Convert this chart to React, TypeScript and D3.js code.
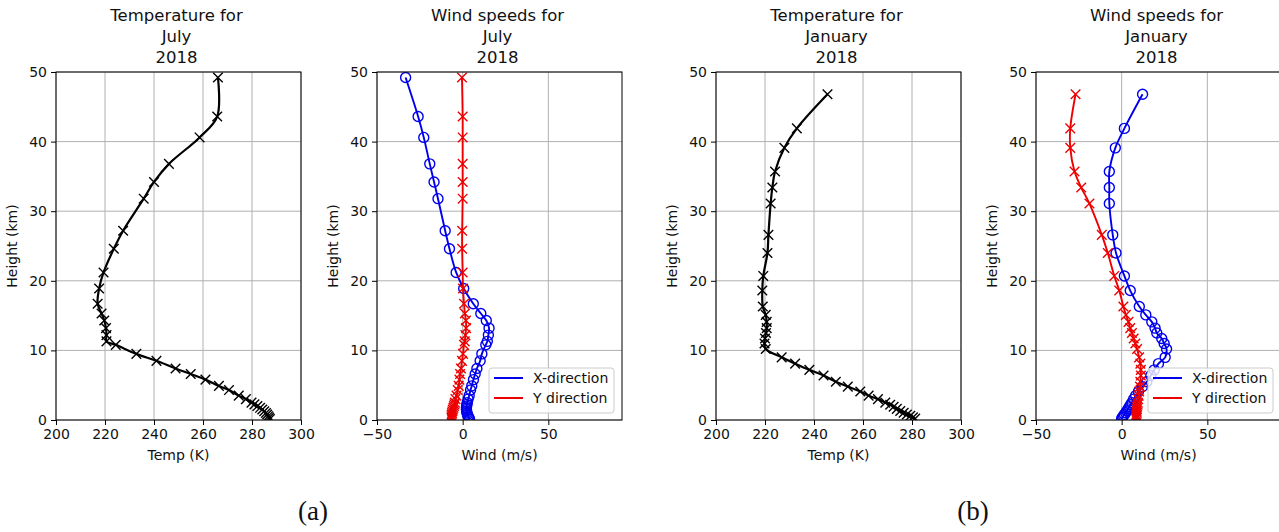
import React, { useEffect, useRef } from "react";
import * as d3 from "d3";

// July 2018 profile, surface -> top (km)
const julyHeight = [0.15, 0.35, 0.55, 0.8, 1.0, 1.25, 1.5, 1.75, 2.0, 2.25, 2.5, 3.0, 3.5, 4.3, 4.9, 5.8, 6.6, 7.4, 8.5, 9.5, 10.8, 11.3, 12.2, 13.2, 14.3, 15.3, 16.7, 18.9, 21.2, 24.6, 27.2, 31.8, 34.2, 36.8, 40.6, 43.6, 49.2];
const julyTemp = [287.3, 287.0, 286.6, 286.2, 285.7, 285.0, 284.2, 283.3, 282.2, 281.0, 279.8, 277.5, 274.6, 270.6, 266.5, 261.0, 255.0, 248.8, 241.0, 232.8, 224.4, 220.6, 220.6, 220.4, 219.7, 218.6, 217.0, 217.6, 219.4, 223.6, 227.4, 235.8, 240.0, 246.1, 258.6, 265.8, 266.1];
const julyWindX = [4.0, 3.6, 3.2, 2.8, 2.5, 2.3, 2.2, 2.2, 2.3, 2.5, 2.7, 3.2, 3.8, 4.6, 5.3, 6.3, 7.3, 8.3, 10.2, 11.2, 13.5, 14.4, 15.0, 15.4, 13.8, 10.6, 6.2, 0.6, -3.8, -7.7, -10.2, -14.4, -16.7, -19.2, -22.7, -26.0, -33.3];
const julyWindY = [-6.3, -6.5, -6.5, -6.4, -6.2, -6.0, -5.7, -5.4, -5.1, -4.8, -4.5, -4.2, -3.6, -2.9, -2.3, -1.9, -1.5, -1.0, -0.4, 0.2, 0.8, 1.2, 1.6, 2.0, 1.9, 1.3, 0.8, 0.2, 0.0, -0.3, -0.3, 0.0, 0.0, 0.0, 0.0, 0.0, -0.4];

// January 2018 profile, surface -> top (km)
const janHeight = [0.2, 0.4, 0.6, 0.8, 1.05, 1.3, 1.6, 1.9, 2.2, 2.5, 3.0, 3.5, 4.1, 4.8, 5.5, 6.4, 7.2, 8.1, 9.0, 10.2, 11.0, 11.7, 12.5, 13.2, 14.1, 15.1, 16.3, 18.6, 20.7, 24.0, 26.6, 31.1, 33.4, 35.7, 39.1, 41.9, 46.8];
const janTemp = [281.3, 280.4, 279.3, 277.9, 276.6, 275.2, 273.8, 272.5, 271.1, 269.1, 266.1, 262.3, 258.9, 253.8, 248.9, 243.9, 238.1, 232.3, 226.8, 220.3, 219.8, 220.0, 220.4, 220.7, 220.7, 220.3, 219.1, 218.9, 219.3, 221.0, 221.4, 222.3, 223.0, 224.1, 227.9, 233.0, 245.5];
const janWindX = [0.0, 0.5, 1.0, 1.6, 2.3, 3.0, 3.8, 4.5, 5.2, 6.0, 7.0, 8.2, 9.8, 12.2, 14.7, 17.0, 19.0, 21.5, 25.4, 26.2, 24.8, 23.4, 20.5, 19.5, 17.6, 14.1, 10.3, 5.0, 1.6, -3.3, -5.2, -7.2, -7.2, -7.2, -3.7, 1.6, 12.2];
const janWindY = [8.4, 8.6, 8.5, 8.6, 8.8, 8.7, 8.9, 9.0, 9.3, 9.4, 9.6, 9.9, 10.2, 10.7, 10.9, 11.2, 11.2, 10.9, 10.2, 9.0, 8.0, 7.0, 6.0, 5.0, 4.0, 2.5, 1.0, -1.4, -4.3, -8.1, -11.6, -18.8, -23.6, -27.5, -30.0, -30.0, -26.9];

const heightTicks = [0, 10, 20, 30, 40, 50];
const tempTicks = [200, 220, 240, 260, 280, 300];
const windTicks = [-50, 0, 50];
const legendLabels = ["X-direction", "Y direction"];
const subLabels = ["(a)", "(b)"];

const TOP = 72;
const BOTTOM = 420;
const W = 245;
const FONT = "DejaVu Sans, sans-serif";
const FS = 14;

type Series = { h: number[]; v: number[]; color: string; marker: "x" | "o"; width: number };

const panels: { left: number; title: string[]; xDomain: number[]; xTicks: number[]; xLabel: string; series: Series[]; legend: boolean }[] = [
  {
    left: 56, title: ["Temperature for", "July", "2018"], xDomain: [200, 300], xTicks: tempTicks, xLabel: "Temp (K)", legend: false,
    series: [{ h: julyHeight, v: julyTemp, color: "black", marker: "x", width: 2.2 }],
  },
  {
    left: 377, title: ["Wind speeds for", "July", "2018"], xDomain: [-50, 93], xTicks: windTicks, xLabel: "Wind (m/s)", legend: true,
    series: [
      { h: julyHeight, v: julyWindX, color: "#0000ee", marker: "o", width: 1.9 },
      { h: julyHeight, v: julyWindY, color: "#ee0000", marker: "x", width: 1.9 },
    ],
  },
  {
    left: 716, title: ["Temperature for", "January", "2018"], xDomain: [200, 300], xTicks: tempTicks, xLabel: "Temp (K)", legend: false,
    series: [{ h: janHeight, v: janTemp, color: "black", marker: "x", width: 2.2 }],
  },
  {
    left: 1036, title: ["Wind speeds for", "January", "2018"], xDomain: [-50, 93], xTicks: windTicks, xLabel: "Wind (m/s)", legend: true,
    series: [
      { h: janHeight, v: janWindX, color: "#0000ee", marker: "o", width: 1.9 },
      { h: janHeight, v: janWindY, color: "#ee0000", marker: "x", width: 1.9 },
    ],
  },
];

export default function App() {
  const ref = useRef<SVGSVGElement>(null);

  useEffect(() => {
    const svg = d3.select(ref.current);
    svg.selectAll("*").remove();

    const y = d3.scaleLinear().domain([0, 50]).range([BOTTOM, TOP]);

    panels.forEach((p, i) => {
      const x = d3.scaleLinear().domain(p.xDomain).range([p.left, p.left + W]);
      const g = svg.append("g");
      const clipId = `clip-${i}`;
      g.append("clipPath").attr("id", clipId)
        .append("rect").attr("x", p.left).attr("y", TOP).attr("width", W).attr("height", BOTTOM - TOP);

      // grid
      g.append("g").selectAll("line").data(p.xTicks).join("line")
        .attr("x1", d => x(d)).attr("x2", d => x(d)).attr("y1", TOP).attr("y2", BOTTOM)
        .attr("stroke", "#b0b0b0").attr("stroke-width", 1);
      g.append("g").selectAll("line").data(heightTicks).join("line")
        .attr("x1", p.left).attr("x2", p.left + W).attr("y1", d => y(d)).attr("y2", d => y(d))
        .attr("stroke", "#b0b0b0").attr("stroke-width", 1);

      // series
      const plot = g.append("g").attr("clip-path", `url(#${clipId})`);
      p.series.forEach(s => {
        const pts = s.h.map((h, k) => [x(s.v[k]), y(h)] as [number, number]);
        const line = d3.line().curve(d3.curveCatmullRom.alpha(0.5));
        plot.append("path").attr("d", line(pts)).attr("fill", "none")
          .attr("stroke", s.color).attr("stroke-width", s.width);
        if (s.marker === "o") {
          plot.append("g").selectAll("circle").data(pts).join("circle")
            .attr("cx", d => d[0]).attr("cy", d => d[1]).attr("r", 5)
            .attr("fill", "none").attr("stroke", s.color).attr("stroke-width", 1.4);
        } else {
          const r = 4.8;
          plot.append("g").selectAll("path").data(pts).join("path")
            .attr("d", d => `M${d[0] - r},${d[1] - r}L${d[0] + r},${d[1] + r}M${d[0] - r},${d[1] + r}L${d[0] + r},${d[1] - r}`)
            .attr("stroke", s.color).attr("stroke-width", 1.4).attr("fill", "none");
        }
      });

      // axes
      const xAxis = g.append("g").attr("transform", `translate(0,${BOTTOM})`)
        .call(d3.axisBottom(x).tickValues(p.xTicks).tickSize(5).tickPadding(4).tickFormat(d3.format("d")));
      const yAxis = g.append("g").attr("transform", `translate(${p.left},0)`)
        .call(d3.axisLeft(y).tickValues(heightTicks).tickSize(5).tickPadding(4).tickFormat(d3.format("d")));
      [xAxis, yAxis].forEach(a => {
        a.select(".domain").remove();
        a.attr("font-family", FONT).attr("font-size", FS);
        a.selectAll("line").attr("stroke", "black");
        a.selectAll("text").attr("fill", "#111");
      });

      // spines
      g.append("rect").attr("x", p.left).attr("y", TOP).attr("width", W).attr("height", BOTTOM - TOP)
        .attr("fill", "none").attr("stroke", "black").attr("stroke-width", 1);

      // labels
      const cx = p.left + W / 2;
      g.append("text").attr("x", cx).attr("y", 460).attr("text-anchor", "middle")
        .attr("font-family", FONT).attr("font-size", FS).attr("fill", "#111").text(p.xLabel);
      g.append("text").attr("transform", `translate(${p.left - 39},${(TOP + BOTTOM) / 2}) rotate(-90)`)
        .attr("text-anchor", "middle").attr("font-family", FONT).attr("font-size", FS).attr("fill", "#111")
        .text("Height (km)");
      p.title.forEach((t, k) => {
        g.append("text").attr("x", cx - 2).attr("y", 21 + k * 21).attr("text-anchor", "middle")
          .attr("font-family", FONT).attr("font-size", 16.5).attr("fill", "#111").text(t);
      });

      // legend
      if (p.legend) {
        const lg = g.append("g").attr("transform", `translate(${p.left + W - 133},${BOTTOM - 52})`);
        lg.append("rect").attr("width", 125).attr("height", 45).attr("rx", 3)
          .attr("fill", "white").attr("fill-opacity", 0.8).attr("stroke", "#cccccc");
        legendLabels.forEach((lab, k) => {
          const yy = 10 + k * 20;
          lg.append("line").attr("x1", 5).attr("x2", 34).attr("y1", yy).attr("y2", yy)
            .attr("stroke", p.series[k].color).attr("stroke-width", 2);
          lg.append("text").attr("x", 44).attr("y", yy + 5).attr("font-family", FONT)
            .attr("font-size", FS).attr("fill", "#111").text(lab);
        });
      }
    });

    // sub-figure labels
    const subX = [313, 973];
    subLabels.forEach((lab, k) => {
      svg.append("text").attr("x", subX[k]).attr("y", 520).attr("text-anchor", "middle")
        .attr("font-family", "Liberation Serif, serif").attr("font-size", 27).attr("fill", "#111").text(lab);
    });
  }, []);

  return (
    <svg ref={ref} width={1279} height={532}
      style={{ position: "absolute", left: 0, top: 0, background: "white" }} />
  );
}
